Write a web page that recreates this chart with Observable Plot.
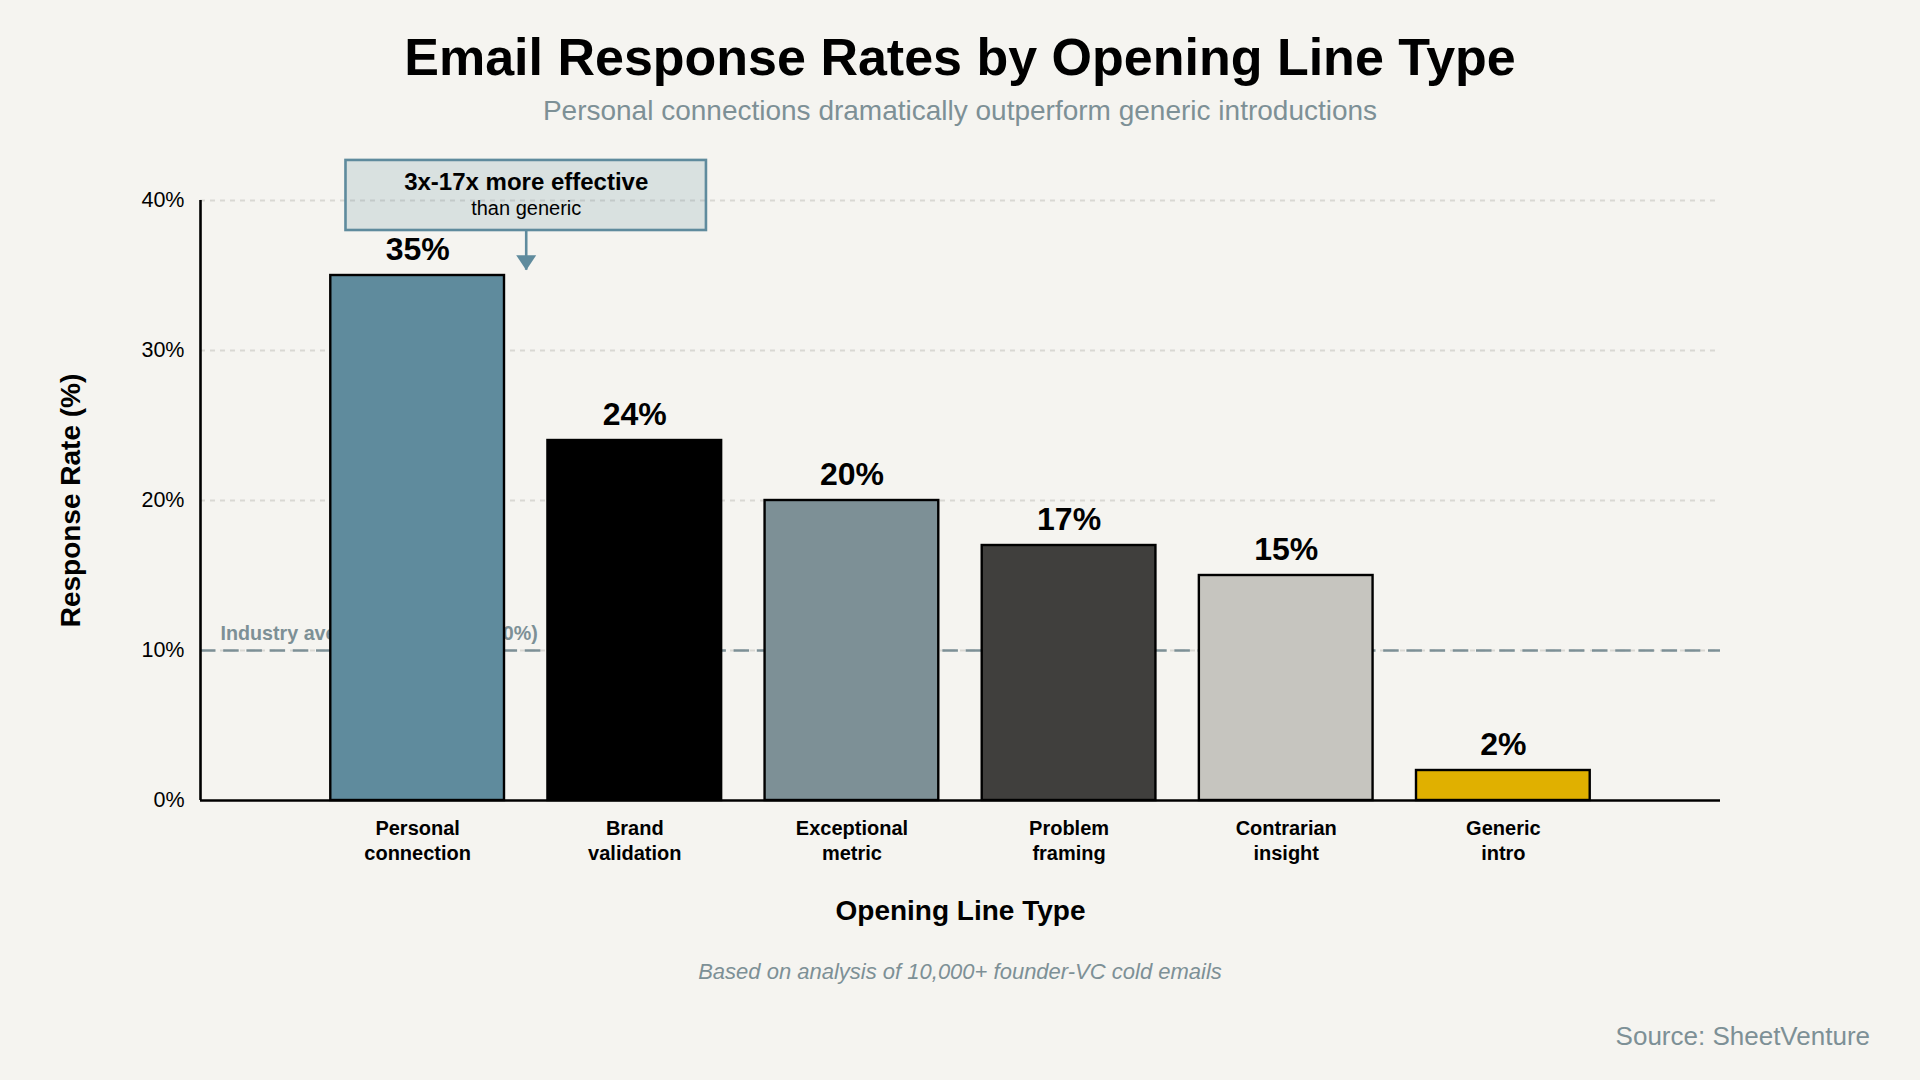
<!DOCTYPE html>
<html>
<head>
<meta charset="utf-8">
<script src="https://cdn.jsdelivr.net/npm/d3@7"></script>
<script src="https://cdn.jsdelivr.net/npm/@observablehq/plot@0.6"></script>
<style>
html,body{margin:0;padding:0;background:#f5f4f0;}
body{width:1920px;height:1080px;overflow:hidden;font-family:"Liberation Sans",Arial,sans-serif;}
#head{height:130px;text-align:center;}
#title{font-size:52px;font-weight:700;line-height:60px;padding-top:27px;color:#000;margin:0;}
#subtitle{font-size:28px;line-height:34px;padding-top:7px;color:#7d9096;margin:0;}
#caption{height:24px;line-height:24px;margin-top:0;text-align:center;font-style:italic;font-size:22px;color:#7d9096;}
#source{margin-top:37px;line-height:30px;text-align:right;padding-right:50px;font-size:26px;color:#7d9096;}
svg{display:block;}
</style>
</head>
<body>
<div id="head">
  <h1 id="title">Email Response Rates by Opening Line Type</h1>
  <p id="subtitle">Personal connections dramatically outperform generic introductions</p>
</div>
<div id="chart"></div>
<div id="caption">Based on analysis of 10,000+ founder-VC cold emails</div>
<div id="source">Source: SheetVenture</div>
<script>
const categories = ["Personal\nconnection","Brand\nvalidation","Exceptional\nmetric","Problem\nframing","Contrarian\ninsight","Generic\nintro"];
const rates = [35,24,20,17,15,2];
const barColors = ["#5f8b9d","#000000","#7d9096","#403f3d","#c6c5bf","#e0b000"];
const yTicks = [0,10,20,30,40];
const industryAverage = 10;
const industryLabel = "Industry average cold email (10%)";
const calloutTitle = "3x-17x more effective";
const calloutSub = "than generic";
const xLabel = "Opening Line Type";
const yLabel = "Response Rate (%)";
const calloutBox = {x1:-0.33,x2:1.33,y1:38,y2:42.67};
const calloutArrow = {x:0.5,y1:38,y2:35.35};

const bars = categories.map((c,i)=>({i,c,rate:rates[i],color:barColors[i]}));
const barHalf = 0.4;
const tip = {draw(ctx){ctx.moveTo(-10,-15);ctx.lineTo(10,-15);ctx.lineTo(0,0);ctx.closePath();}};

const chart = Plot.plot({
  width:1920,height:830,
  marginTop:70,marginBottom:160,marginLeft:200,marginRight:200,
  style:{background:"transparent",fontFamily:"'Liberation Sans',Arial,sans-serif",color:"#000"},
  x:{domain:[-1,6]},
  y:{domain:[0,40]},
  marks:[
    Plot.ruleY(yTicks.slice(1),{stroke:"#d9d8d3",strokeWidth:2,strokeDasharray:"5,5"}),
    Plot.ruleY([industryAverage],{stroke:"#7d9096",strokeWidth:2.4,strokeDasharray:"15.5,7.7"}),
    Plot.text([industryLabel],{x:-1,y:industryAverage,text:d=>d,textAnchor:"start",lineAnchor:"bottom",dx:20,dy:-11,fontSize:19.7,fontWeight:700,fill:"#7d9096"}),
    Plot.rectY(bars,{x1:d=>d.i-barHalf,x2:d=>d.i+barHalf,y1:0,y2:"rate",fill:"color",stroke:"#000",strokeWidth:2.4}),
    Plot.text(bars,{x:"i",y:"rate",text:d=>d.rate+"%",lineAnchor:"bottom",dy:-16,fontSize:32,fontWeight:700,fill:"#000"}),
    Plot.ruleY([0],{stroke:"#000",strokeWidth:2.6}),
    Plot.ruleX([-1],{y1:0,y2:40,stroke:"#000",strokeWidth:2.6}),
    Plot.axisY({ticks:yTicks,tickSize:0,tickPadding:16,tickFormat:d=>d+"%",label:null,fontSize:21.5,stroke:"none"}),
    Plot.axisX({ticks:d3.range(categories.length),tickSize:0,tickPadding:17,tickFormat:i=>categories[i],label:null,fontSize:20,fontWeight:700,lineHeight:1.25}),
    Plot.text([yLabel],{frameAnchor:"left",textAnchor:"middle",rotate:-90,dx:-129,text:d=>d,fontSize:28,fontWeight:700,fill:"#000"}),
    Plot.text([xLabel],{frameAnchor:"bottom",dy:119,x:2.5,text:d=>d,fontSize:28,fontWeight:700,fill:"#000"}),
    Plot.rect([calloutBox],{x1:"x1",x2:"x2",y1:"y1",y2:"y2",fill:"#5f8b9d",fillOpacity:0.18,stroke:"#5f8b9d",strokeWidth:2.6}),
    Plot.ruleX([calloutArrow],{x:"x",y1:"y1",y2:"y2",stroke:"#5f8b9d",strokeWidth:2.6}),
    Plot.dot([calloutArrow],{x:"x",y:"y2",symbol:tip,fill:"#5f8b9d",stroke:"none"}),
    Plot.text([calloutTitle],{x:0.5,y:41.18,text:d=>d,fontSize:24,fontWeight:700,fill:"#000"}),
    Plot.text([calloutSub],{x:0.5,y:39.43,text:d=>d,fontSize:20,fill:"#000"})
  ]
});
document.getElementById("chart").appendChild(chart);
</script>
</body>
</html>
